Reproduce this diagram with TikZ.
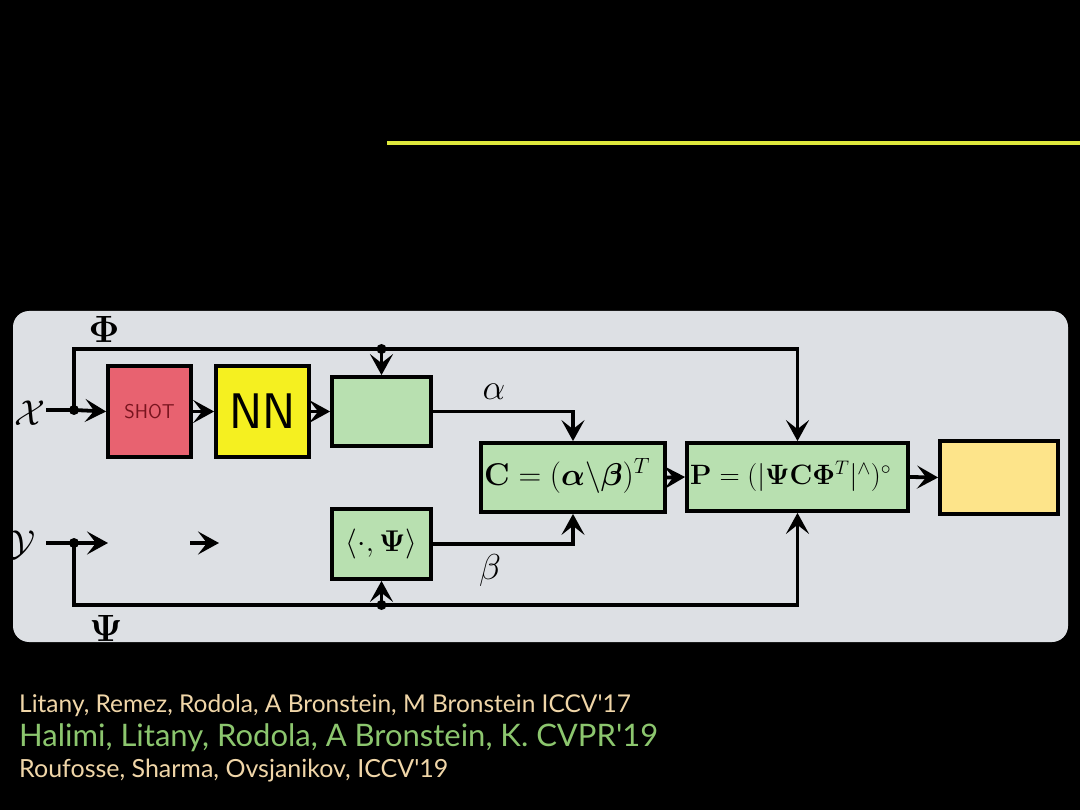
\RequirePackage{fix-cm}
\documentclass[tikz,border=0pt]{standalone}
\usepackage{amsmath,amssymb}
\usepackage[no-math]{fontspec}
\newfontfamily\citefont{Lato}
\usetikzlibrary{arrows.meta}
\definecolor{panel}{RGB}{221,224,228}
\definecolor{gbox}{RGB}{184,224,176}
\definecolor{shotred}{RGB}{232,98,112}
\definecolor{nnyellow}{RGB}{245,240,32}
\definecolor{outbox}{RGB}{253,228,138}
\definecolor{yline}{RGB}{222,232,60}
\definecolor{citetan}{RGB}{240,214,168}
\definecolor{citegreen}{RGB}{140,198,110}
\definecolor{shottext}{RGB}{120,20,30}
\tikzset{
  blk/.style={draw=black, line width=3.8pt, inner sep=0pt, rectangle},
  arr/.style={line width=3.8pt, -{Stealth[length=21pt,width=23pt,inset=9pt]}},
  wire/.style={line width=3.8pt},
  dotj/.style={circle, fill=black, inner sep=0pt, minimum size=10pt},
  mathlbl/.style={inner sep=0pt},
  cite/.style={anchor=west, inner sep=0pt, font=\citefont}
}
\begin{document}
\begin{tikzpicture}[x=1pt,y=-1pt]
\useasboundingbox (0,0) rectangle (1080,810);
\fill[black] (0,0) rectangle (1080,810);
% yellow title rule
\coordinate (yl1) at (387,143);
\coordinate (yl2) at (1080,143);
\draw[yline, line width=4pt] (yl1) -- (yl2);
% panel
\fill[panel, rounded corners=16pt] (13,311) rectangle (1068,642);

% boxes
\node[blk, fill=shotred, minimum width=83pt, minimum height=91pt] (shot) at (149.5,411.5)
  {\fontsize{20}{24}\selectfont\sffamily\color{shottext}SHOT};
\node[blk, fill=nnyellow, minimum width=93pt, minimum height=91pt] (nn) at (262.5,411.5)
  {\fontsize{50}{54}\selectfont\sffamily NN};
\node[blk, fill=gbox, minimum width=99pt, minimum height=69pt] (g1) at (381.5,411.5) {};
\node[blk, fill=gbox, minimum width=99pt, minimum height=70pt] (ip) at (381.5,544)
  {\fontsize{30}{34}\selectfont$\langle\cdot,\mathbf{\Psi}\rangle$};
\node[blk, fill=gbox, minimum width=184pt, minimum height=69pt] (C) at (573,477.5) {};
\node[mathlbl, anchor=west] (Ct) at (484,476)
  {\fontsize{31.5}{36}\selectfont$\mathbf{C}=(\boldsymbol{\alpha}\backslash\boldsymbol{\beta})^T$};
\node[blk, fill=gbox, minimum width=221pt, minimum height=68pt] (P) at (797.5,477) {};
\node[mathlbl, anchor=west] (Pt) at (690,476)
  {\fontsize{28}{32}\selectfont$\mathbf{P}=(|\mathbf{\Psi}\mathbf{C}\mathbf{\Phi}^T|^{\wedge})^{\circ}$};
\node[blk, fill=outbox, minimum width=118pt, minimum height=73pt] (out) at (999,477.5) {};

% labels
\node[mathlbl] (Xl) at (30,413) {\fontsize{36}{40}\selectfont$\mathcal{X}$};
\node[mathlbl] (Yl) at (22,545) {\fontsize{36}{40}\selectfont$\mathcal{Y}$};
\node[mathlbl] (Phil) at (104,329) {\fontsize{38}{42}\selectfont$\mathbf{\Phi}$};
\node[mathlbl] (Psil) at (106,628) {\fontsize{38}{42}\selectfont$\mathbf{\Psi}$};
\node[mathlbl] (al) at (494,392) {\fontsize{36}{40}\selectfont$\alpha$};
\node[mathlbl] (bl) at (490,570) {\fontsize{36}{40}\selectfont$\beta$};

% junction coordinates
\coordinate (xin) at (46,410);
\coordinate (jx) at (74,410);
\coordinate (yin) at (46,543);
\coordinate (jy) at (74,543);
\coordinate (yend) at (108,543);
\coordinate (a1) at (190,543);
\coordinate (a2) at (219,543);
\coordinate (tc) at (381.5,349);
\coordinate (bc) at (381.5,605);

% wires
\draw[wire] (xin) -- (jx);
\draw[arr] (jx) -- (shot.west);
\draw[arr] (shot.east) -- (nn.west);
\draw[arr] (nn.east) -- (g1.west);
\draw[arr] (jx) |- (tc) -| (P.north);
\draw[arr] (tc) -- (g1.north);
\draw[arr] (g1.east) -| (C.north);
\draw[arr] (ip.east) -| (C.south);
\draw[arr] (C.east) -- (P.west);
\draw[arr] (P.east) -- (out.west);
\draw[wire] (yin) -- (jy);
\draw[arr] (jy) -- (yend);
\draw[arr] (a1) -- (a2);
\draw[arr] (jy) |- (bc) -| (P.south);
\draw[arr] (bc) -- (ip.south);
\node[dotj] at (jx) {};
\node[dotj] at (jy) {};
\node[dotj] at (tc) {};
\node[dotj] at (bc) {};

% citations
\node[cite, text=citetan] (c1) at (19,706) {\fontsize{24.5}{29}\selectfont Litany, Remez, Rodola, A Bronstein, M Bronstein ICCV'17};
\node[cite, text=citegreen] (c2) at (19,738) {\fontsize{31}{36}\selectfont Halimi, Litany, Rodola, A Bronstein, K. CVPR'19};
\node[cite, text=citetan] (c3) at (19,771) {\fontsize{25}{29}\selectfont Roufosse, Sharma, Ovsjanikov, ICCV'19};
\end{tikzpicture}
\end{document}
